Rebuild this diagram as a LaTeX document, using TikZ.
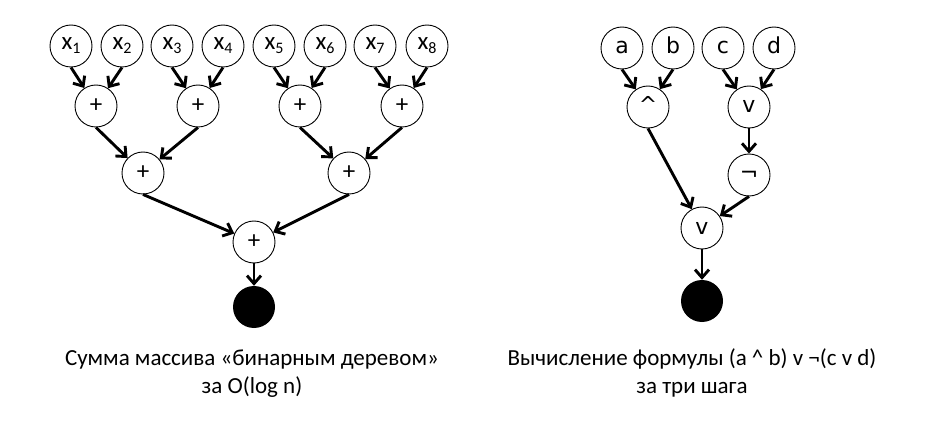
\documentclass[tikz,border=0pt]{standalone}
\usepackage{fontspec}
\setmainfont{Carlito}
\newfontfamily\dejavu{DejaVu Sans}
\usetikzlibrary{arrows.meta, positioning}
\newcommand{\xsub}[1]{x\raisebox{-4pt}{\fontsize{16}{16}\selectfont #1}}

\begin{document}
\begin{tikzpicture}[x=1pt, y=-1pt,
  op/.style={draw, circle, line width=0.9pt, minimum size=42pt,
             inner sep=0pt, font=\fontsize{25}{25}\selectfont},
  var/.style={op, font=\fontsize{25}{25}\selectfont},
  lop/.style={op, font=\dejavu\fontsize{22}{22}\selectfont,
              text height=12pt, text depth=0pt},
  sink/.style={circle, fill=black, minimum size=42pt, inner sep=0pt},
  arr/.style={-{Straight Barb[length=8pt, width=14pt]}, line width=2.9pt},
  caption/.style={anchor=base, font=\fontsize{23}{28}\selectfont}
]
\useasboundingbox (0,0) rectangle (930,425);

%% Sum tree: inputs
\node[var] (x1) at (71,46)  {\xsub{1}};
\node[var] (x2) at (122,46) {\xsub{2}};
\node[var] (x3) at (172,46) {\xsub{3}};
\node[var] (x4) at (223,46) {\xsub{4}};
\node[var] (x5) at (274,46) {\xsub{5}};
\node[var] (x6) at (325,46) {\xsub{6}};
\node[var] (x7) at (375,46) {\xsub{7}};
\node[var] (x8) at (427,46) {\xsub{8}};

%% Sum tree: adders
\node[op] (s1) at (96,106)  {+};
\node[op] (s2) at (198,106) {+};
\node[op] (s3) at (300,106) {+};
\node[op] (s4) at (402,106) {+};
\node[op] (s5) at (143,173) {+};
\node[op] (s6) at (349,173) {+};
\node[op] (s7) at (254,242) {+};
\node[sink] (sumout) at (254,307) {};

\draw[arr] (x1.south) -- (s1);
\draw[arr] (x2.south) -- (s1);
\draw[arr] (x3.south) -- (s2);
\draw[arr] (x4.south) -- (s2);
\draw[arr] (x5.south) -- (s3);
\draw[arr] (x6.south) -- (s3);
\draw[arr] (x7.south) -- (s4);
\draw[arr] (x8.south) -- (s4);
\draw[arr] (s1.south) -- (s5);
\draw[arr] (s2.south) -- (s5);
\draw[arr] (s3.south) -- (s6);
\draw[arr] (s4.south) -- (s6);
\draw[arr] (s5.south) -- (s7);
\draw[arr] (s6.south) -- (s7);
\draw[arr] (s7.south) -- (sumout);

%% Formula tree
\node[lop] (va) at (622,48) {a};
\node[lop] (vb) at (673,48) {b};
\node[lop] (vc) at (723,48) {c};
\node[lop] (vd) at (774,48) {d};
\node[lop] (fand) at (648,107) {\textasciicircum};
\node[lop] (for)  at (749,107) {v};
\node[lop] (fnot) at (749,175) {¬};
\node[lop] (fres) at (702,228) {v};
\node[sink] (fout) at (702,301) {};

\draw[arr] (va.south) -- (fand);
\draw[arr] (vb.south) -- (fand);
\draw[arr] (vc.south) -- (for);
\draw[arr] (vd.south) -- (for);
\draw[arr] (for.south) -- (fnot);
\draw[arr] (fand.south) -- (fres);
\draw[arr] (fnot.south) -- (fres);
\draw[arr] (fres.south) -- (fout);

%% Captions
\node[caption] (sumcap)  at (252,365) {Сумма массива «бинарным деревом»};
\node[caption] (sumcap2) at (252,393) {за O(log n)};
\node[caption] (fcap)    at (692,365)
  {Вычисление формулы (a \textasciicircum\ b) v ¬(c v d)};
\node[caption] (fcap2)   at (692,393) {за три шага};

\end{tikzpicture}
\end{document}
